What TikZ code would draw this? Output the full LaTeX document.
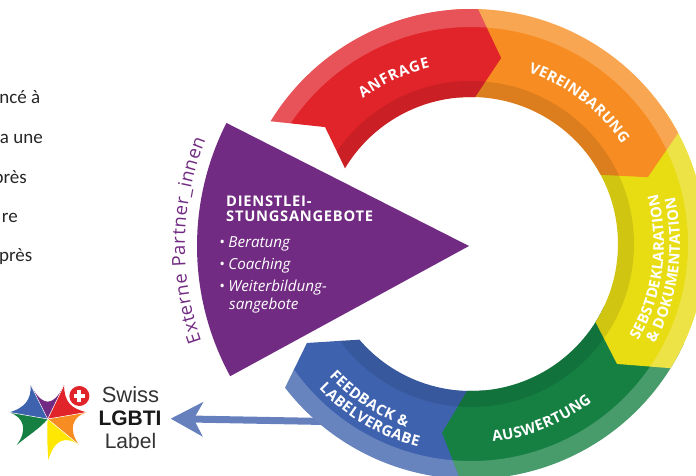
\documentclass[tikz,border=0pt]{standalone}
\usepackage{fontspec}
\usepackage{xcolor}
\usetikzlibrary{arrows.meta,decorations.text,positioning}
\newfontfamily\segfont{Open Sans}
\newfontfamily\headfont{Open Sans}[LetterSpace=5]
\newfontfamily\leftfont{Carlito}
\newfontfamily\logofont{Liberation Sans}
\definecolor{mred}{HTML}{E1232A}
\definecolor{morange}{HTML}{F78D22}
\definecolor{myellow}{HTML}{E8DC12}
\definecolor{mgreen}{HTML}{158042}
\definecolor{mblue}{HTML}{3E62AE}
\definecolor{mpurple}{HTML}{722B82}
\definecolor{marrow}{HTML}{6680BE}
\definecolor{mlogotext}{HTML}{333333}
\tikzstyle{sidetext}=[anchor=base east, inner sep=0pt, font=\leftfont\fontsize{19}{19}\selectfont, text=black!85]
\tikzstyle{itemtext}=[anchor=base west, inner sep=0pt, text=white, font=\segfont\itshape\fontsize{15.2}{15.2}\selectfont]
\tikzstyle{headtext}=[anchor=base west, inner sep=0pt, text=white, font=\headfont\bfseries\fontsize{14.7}{14.7}\selectfont]
\tikzstyle{logotext}=[anchor=base, inner sep=0pt, text=mlogotext, font=\logofont\fontsize{22}{22}\selectfont]
\tikzstyle{spoke}=[draw=white, line width=0.5]
% colour, outer arc, tip, inner arc, tail
\newcommand{\ringseg}[9]{
  \begin{scope}
    \clip (#2:235) arc[start angle=#2, end angle=#3, radius=235] -- (#4:#5) -- (#6:147)
      arc[start angle=#6, end angle=#7, radius=147] -- (#8:#9) -- cycle;
    \fill[#1] (0,0) circle (240);
    \fill[white, opacity=0.22, even odd rule] (0,0) circle (240) (0,0) circle (217);
    \fill[black, opacity=0.1, even odd rule] (0,0) circle (163) (0,0) circle (140);
  \end{scope}
}
\newcommand{\seglabel}[4]{
  \path[decorate, decoration={text along path, text align={fit to path},
    text={|\segfont\bfseries\fontsize{14.8}{14.8}\selectfont\color{white}|#4}}]
    (#2:#1) arc[start angle=#2, end angle=#3, radius=#1];
}
\begin{document}
\begin{tikzpicture}[x=1pt, y=1pt]
    \useasboundingbox (0,0) rectangle (696,475);
    \coordinate (hub) at (471,231);
    \coordinate (wedge) at (469,229);
    \coordinate (feedback) at (325,53.5);

    % text cut off at the margin
    \node[sidetext] (line1) at (40.5,371) {ncé à};
    \node[sidetext] (line2) at (43,331) {a une};
    \node[sidetext] (line3) at (27,292) {près};
    \node[sidetext] (line4) at (18,253) {re};
    \node[sidetext] (line5) at (32.5,214) {près};

    % logo text
    \node[logotext] (swiss) at (130.5,72.3) {Swiss};
    \node[logotext, anchor=center, text depth=0pt, font=\logofont\bfseries\fontsize{21}{21}\selectfont, text=black!90] (lgbti) at (130,56.5) {LGBTI};
    \node[logotext, font=\logofont\fontsize{21}{21}\selectfont] (label) at (130.5,26.7) {Label};

    \draw[marrow, line width=7, shorten >=9, -{Stealth[length=32, width=34, inset=9]}] (feedback) -- (lgbti.east);

    % ring
    \begin{scope}[shift={(hub)}]
        \ringseg{mblue}{-85}{-142.3}{-148.9}{191.6}{-139.4}{-85}{-85}{190}
        \ringseg{mgreen}{-25}{-92.7}{-98.7}{191}{-91.5}{-25}{-25}{190}
        \ringseg{myellow}{35}{-31.9}{-39.4}{189}{-32.1}{35}{35}{190}
        \ringseg{morange}{95}{28.2}{20.7}{189}{28.1}{95}{95}{190}
        \ringseg{mred}{148.5}{88.3}{80.8}{188.4}{88.4}{149}{141.3}{187}
        \seglabel{181}{126.7}{103.1}{ANFRAGE}
        \seglabel{181}{71.5}{33.5}{VEREINBARUNG}
        \seglabel{193}{-30}{15}{SEBSTDEKLARATION}
        \seglabel{209}{-28.5}{13}{{\&} DOKUMENTATION}
        \seglabel{199}{-83.7}{-52.5}{AUSWERTUNG}
        \seglabel{194}{223}{250.6}{FEEDBACK {\&}}
        \seglabel{210}{223.6}{255.4}{LABELVERGABE}
    \end{scope}

    % purple wedge
    \fill[mpurple] (wedge) -- ++(153.1:272) arc[start angle=153.1, end angle=208.6, radius=272] -- cycle;
    \begin{scope}[shift={(wedge)}]
        \path[decorate, decoration={text along path, text align={fit to path},
            text={|\segfont\fontsize{18.5}{18.5}\selectfont\color{mpurple}|Externe Partner{\_}innen}}]
            (199.6:284) arc[start angle=199.6, end angle=158, radius=284];
    \end{scope}

    \node[headtext] (head1) at (226,269) {DIENSTLEI-};
    \node[headtext] (head2) at (226,253.3) {STUNGSANGEBOTE};
    \node[itemtext] (item1) at (219,228) {•\hspace{3.5pt}Beratung};
    \node[itemtext] (item2) at (219,206) {•\hspace{3.5pt}Coaching};
    \node[itemtext] (item3) at (219,184) {•\hspace{3.5pt}Weiterbildung-};
    \node[itemtext] (item4) at (229,166) {sangebote};

    % logo star
    \begin{scope}[shift={(47.7,56)}, x=0.3333pt, y=0.3333pt]
        \fill[mpurple] (0,0) -- (-51,102) .. controls (-30,60) and (-10,52) .. (0,52) .. controls (10,52) and (30,60) .. (49,102) -- cycle;
        \fill[mred] (0,0) -- (49,102) .. controls (50,50) and (70,32) .. (117,20) -- cycle;
        \fill[morange] (0,0) -- (117,20) .. controls (75,8) and (60,-30) .. (94,-78) -- cycle;
        \fill[yellow!90!orange] (0,0) -- (94,-78) .. controls (55,-50) and (20,-60) .. (2,-123) .. controls (-2,-70) and (-2,-30) .. (0,0);
        \fill[mgreen] (0,0) -- (-115,20) .. controls (-70,5) and (-60,-35) .. (-93,-78) .. controls (-60,-50) and (-25,-30) .. (0,0);
        \fill[mblue] (0,0) -- (-51,102) .. controls (-50,60) and (-65,35) .. (-115,20) -- cycle;
        \foreach \tipx/\tipy in {-51/102, 49/102, 117/20, 94/-78, -115/20}
            \draw[spoke] (0,0) -- (\tipx,\tipy);
        \fill[white] (95,69) circle (36);
        \fill[mred] (95,69) circle (30);
        \fill[white] (78,63) rectangle (112,75);
        \fill[white] (89,52) rectangle (101,86);
    \end{scope}
\end{tikzpicture}
\end{document}
